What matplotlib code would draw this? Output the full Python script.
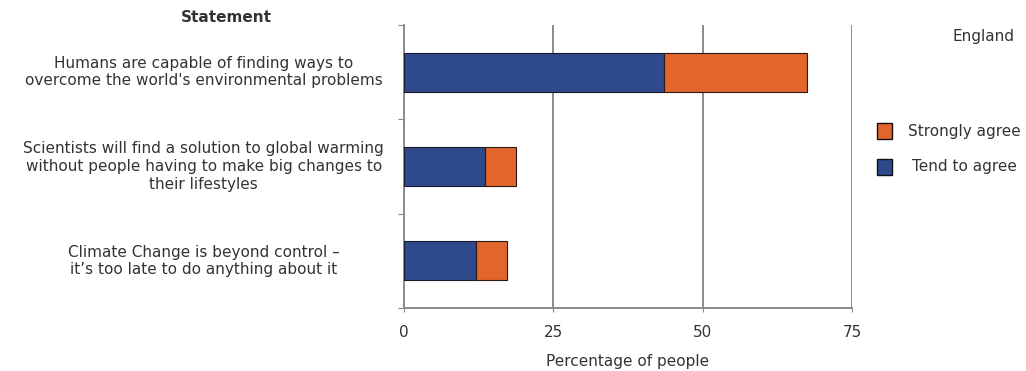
import matplotlib
matplotlib.use("Agg")
import matplotlib.pyplot as plt
from matplotlib.patches import Rectangle

statements = [
    "Humans are capable of finding ways to\novercome the world's environmental problems",
    "Scientists will find a solution to global warming\nwithout people having to make big changes to\ntheir lifestyles",
    "Climate Change is beyond control \u2013\nit\u2019s too late to do anything about it",
]
tend_to_agree = [43.5, 13.5, 12.0]
strongly_agree = [24.0, 5.2, 5.2]
x_ticks = [0, 25, 50, 75]

BLUE = "#2f4a8c"
ORANGE = "#e2652c"
GRID = "#8a8a8a"
TEXT = "#333333"
FS = 11

plt.rcParams["font.family"] = ["DejaVu Sans"]

W, H = 1026, 371
fig = plt.figure(figsize=(W / 100, H / 100), dpi=100)
ax = fig.add_axes([404 / W, 1 - 308 / H, (852 - 404) / W, (308 - 25) / H])

ypos = [0, 1, 2]
ax.barh(ypos, tend_to_agree, height=0.41, color=BLUE, edgecolor="#1a1a2a", linewidth=0.8, zorder=3)
ax.barh(ypos, strongly_agree, left=tend_to_agree, height=0.41, color=ORANGE,
        edgecolor="#2a1a10", linewidth=0.8, zorder=3)

ax.set_xlim(0, 75)
ax.set_ylim(2.5, -0.5)
ax.set_xticks(x_ticks)
ax.set_xticklabels([str(t) for t in x_ticks], fontsize=FS, color=TEXT)
ax.tick_params(axis="x", length=3, color=GRID, pad=9)
ax.set_yticks([-0.5, 0.5, 1.5, 2.5])
ax.set_yticklabels([])
ax.tick_params(axis="y", length=4, color=GRID, direction="out")

for t in x_ticks[1:]:
    ax.axvline(t, color=GRID, linewidth=1.4, zorder=1)

for side in ("top", "right"):
    ax.spines[side].set_visible(False)
for side in ("left", "bottom"):
    ax.spines[side].set_color(GRID)
    ax.spines[side].set_linewidth(1.4)

ax.set_xlabel("Percentage of people", fontsize=FS, color=TEXT, labelpad=10)

# Statement labels to the left of the axis
for y, label in zip(ypos, statements):
    ax.text(-0.447, y, label, transform=ax.get_yaxis_transform(), ha="center", va="center",
            multialignment="center", fontsize=FS, color=TEXT, linespacing=1.22)

fig.text(226 / W, 1 - 18 / H, "Statement", ha="center", va="center", fontsize=FS,
         fontweight="bold", color=TEXT)
fig.text(1015 / W, 1 - 37 / H, "England", ha="right", va="center", fontsize=FS, color=TEXT)

# Legend swatches
for ypix, col, lab, tx in [(131, ORANGE, "Strongly agree", 964), (167, BLUE, "Tend to agree", 964)]:
    fig.patches.append(Rectangle((877 / W, 1 - (ypix + 8) / H), 15 / W, 16 / H,
                                 transform=fig.transFigure, facecolor=col,
                                 edgecolor="#111111", linewidth=1.0))
    fig.text(tx / W, 1 - ypix / H, lab, ha="center", va="center", fontsize=FS, color=TEXT)

fig.savefig("out.png", dpi=100, facecolor="white")
